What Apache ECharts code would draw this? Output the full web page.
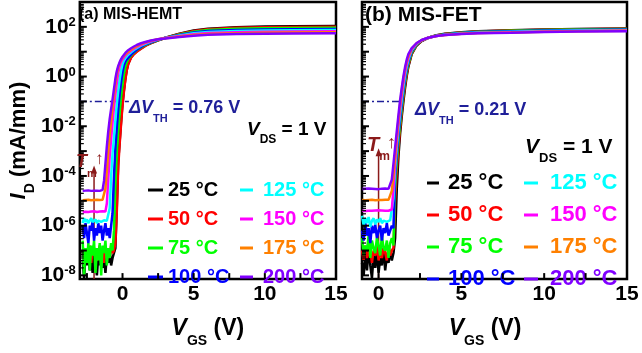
<!DOCTYPE html>
<html><head><meta charset="utf-8">
<script src="https://cdn.jsdelivr.net/npm/echarts@6/dist/echarts.min.js"></script>
<style>html,body{margin:0;padding:0;background:#fff}#c{width:642px;height:353px}</style>
</head><body><div id="c"></div>
<script>
// ---------- data: log10 of I_D (mA/mm) vs V_GS (V) ----------
const temps = ['25 °C','50 °C','75 °C','100 °C','125 °C','150 °C','175 °C','200 °C'];
const colors = ['#000000','#ff0000','#00ff00','#0000ff','#00ffff','#ff00ff','#ff8000','#8000ff'];

// panel (a) MIS-HEMT
const vgsA = [-2.8,-2.7,-2.6,-2.5,-2.4,-2.3,-2.2,-2.1,-2.0,-1.9,-1.8,-1.7,-1.6,-1.5,-1.4,-1.3,-1.2,-1.1,-1.0,-0.9,-0.8,-0.7,-0.6,-0.5,-0.4,-0.3,-0.2,-0.1,0,0.1,0.2,0.3,0.4,0.6,0.8,1.0,1.3,1.6,2.0,2.5,3,4,5,6,8,10,12,15];
const log10IdA25 = [-7.4,-8.1,-7.2,-7.6,-7.0,-7.8,-7.3,-7.9,-7.1,-7.5,-8.0,-7.2,-7.6,-7.0,-7.7,-7.3,-7.9,-7.2,-7.5,-7.0,-7.6,-7.3,-7.1,-6.9,-5.2,-3.4,-2.6,-1.8,-1.08,-0.55,-0.08,0.28,0.52,0.78,0.92,1.02,1.13,1.24,1.35,1.46,1.56,1.72,1.85,1.92,1.98,2.01,2.02,2.03];
const log10IdA50 = [-7.1,-6.9,-7.4,-7.0,-7.3,-6.8,-7.5,-7.0,-7.2,-6.9,-7.4,-7.1,-6.8,-7.3,-7.0,-7.5,-6.9,-7.2,-7.0,-7.3,-6.8,-7.1,-7.0,-6.7,-5.4,-3.6,-2.7,-1.9,-1.15,-0.6,-0.12,0.25,0.5,0.76,0.9,1.0,1.12,1.23,1.35,1.46,1.55,1.71,1.83,1.9,1.96,1.98,1.99,2.0];
const log10IdA75 = [-6.6,-8.0,-6.9,-7.5,-6.7,-7.8,-6.8,-7.2,-6.6,-7.9,-6.9,-7.4,-6.7,-8.0,-6.8,-7.1,-6.6,-7.6,-6.9,-7.3,-6.7,-7.0,-6.2,-4.3,-3.0,-2.2,-1.44,-0.8,-0.3,0.1,0.4,0.58,0.7,0.85,0.97,1.07,1.17,1.27,1.37,1.47,1.55,1.69,1.8,1.87,1.92,1.94,1.95,1.96];
const log10IdA100 = [-6.0,-6.5,-5.9,-6.3,-6.7,-6.0,-6.2,-5.8,-6.6,-6.1,-6.4,-5.9,-6.3,-6.0,-6.6,-6.2,-5.9,-6.4,-6.1,-6.5,-6.0,-5.5,-4.0,-2.85,-2.05,-1.3,-0.7,-0.22,0.17,0.45,0.6,0.69,0.76,0.88,0.99,1.08,1.19,1.29,1.38,1.48,1.55,1.67,1.77,1.83,1.87,1.89,1.9,1.91];
const log10IdA125 = [-5.9,-5.7,-5.85,-5.75,-5.9,-5.8,-5.7,-5.85,-5.8,-5.75,-5.9,-5.8,-5.75,-5.85,-5.8,-5.78,-5.82,-5.8,-5.78,-5.3,-4.0,-3.1,-2.45,-1.75,-1.1,-0.58,-0.12,0.25,0.5,0.64,0.74,0.82,0.88,0.98,1.07,1.14,1.24,1.32,1.41,1.49,1.55,1.65,1.74,1.79,1.83,1.85,1.86,1.87];
const log10IdA150 = [-5.45,-5.4,-5.44,-5.42,-5.45,-5.41,-5.43,-5.44,-5.42,-5.43,-5.45,-5.42,-5.43,-5.44,-5.42,-5.43,-5.43,-5.1,-4.1,-3.2,-2.5,-1.85,-1.25,-0.72,-0.25,0.15,0.42,0.58,0.69,0.77,0.84,0.9,0.95,1.04,1.12,1.18,1.27,1.35,1.42,1.5,1.55,1.63,1.7,1.75,1.78,1.8,1.81,1.82];
const log10IdA175 = [-4.98,-4.96,-4.97,-4.99,-4.96,-4.97,-4.98,-4.96,-4.97,-4.98,-4.96,-4.97,-4.97,-4.98,-4.96,-4.95,-4.5,-3.8,-3.0,-2.35,-1.78,-1.25,-0.78,-0.3,0.1,0.36,0.54,0.67,0.76,0.84,0.9,0.96,1.0,1.09,1.16,1.22,1.31,1.37,1.44,1.5,1.54,1.61,1.67,1.71,1.74,1.76,1.77,1.78];
const log10IdA200 = [-4.6,-4.58,-4.59,-4.61,-4.58,-4.59,-4.6,-4.58,-4.59,-4.6,-4.59,-4.58,-4.6,-4.59,-4.56,-4.2,-3.5,-2.8,-2.2,-1.7,-1.3,-0.92,-0.5,-0.08,0.22,0.43,0.58,0.7,0.8,0.88,0.95,1.01,1.06,1.14,1.21,1.27,1.34,1.39,1.45,1.5,1.53,1.59,1.64,1.68,1.71,1.72,1.73,1.74];

// panel (b) MIS-FET
const vgsB = [-1.0,-0.9,-0.8,-0.7,-0.6,-0.5,-0.4,-0.3,-0.2,-0.1,0,0.1,0.2,0.3,0.4,0.5,0.6,0.7,0.8,0.9,1.0,1.1,1.2,1.3,1.4,1.5,1.6,1.7,1.8,2.0,2.3,2.6,3.0,3.5,4,5,6,8,10,12,15];
const log10IdB25 = [-7.5,-8.0,-7.1,-7.8,-6.9,-7.6,-8.1,-7.2,-7.7,-7.0,-7.9,-7.3,-7.6,-6.9,-7.8,-7.2,-7.5,-7.0,-7.4,-7.1,-6.5,-4.5,-3.2,-2.3,-1.6,-1.0,-0.45,0.02,0.4,0.9,1.25,1.43,1.56,1.66,1.72,1.78,1.82,1.86,1.89,1.91,1.93];
const log10IdB50 = [-7.0,-7.4,-6.8,-7.3,-7.1,-6.9,-7.5,-7.0,-7.2,-6.8,-7.4,-7.0,-7.3,-6.9,-7.1,-7.4,-6.8,-7.2,-7.0,-6.9,-5.0,-3.8,-2.9,-2.1,-1.45,-0.85,-0.33,0.1,0.45,0.93,1.26,1.44,1.56,1.65,1.71,1.77,1.81,1.85,1.88,1.9,1.92];
const log10IdB75 = [-6.5,-7.2,-6.8,-7.0,-6.4,-7.3,-6.6,-6.9,-7.1,-6.5,-6.8,-7.2,-6.4,-6.9,-7.0,-6.6,-7.3,-6.7,-6.5,-6.8,-4.4,-3.4,-2.6,-1.9,-1.28,-0.7,-0.2,0.2,0.52,0.97,1.28,1.45,1.56,1.65,1.7,1.76,1.8,1.84,1.87,1.89,1.91];
const log10IdB100 = [-6.2,-6.6,-5.9,-6.4,-6.1,-6.7,-6.0,-6.3,-5.95,-6.5,-6.2,-6.0,-6.6,-6.1,-6.3,-5.9,-6.4,-6.2,-6.0,-6.1,-4.0,-3.1,-2.35,-1.7,-1.1,-0.55,-0.08,0.3,0.6,1.02,1.3,1.45,1.56,1.64,1.69,1.75,1.79,1.82,1.85,1.87,1.89];
const log10IdB125 = [-5.6,-6.0,-5.7,-5.9,-5.65,-6.05,-5.8,-5.7,-5.95,-5.75,-5.85,-5.7,-5.9,-5.8,-5.75,-5.85,-5.8,-5.78,-5.82,-4.9,-3.7,-2.85,-2.15,-1.5,-0.92,-0.4,0.05,0.4,0.68,1.06,1.32,1.46,1.56,1.63,1.68,1.74,1.77,1.8,1.83,1.85,1.87];
const log10IdB150 = [-5.4,-5.38,-5.41,-5.39,-5.4,-5.37,-5.4,-5.41,-5.39,-5.4,-5.38,-5.4,-5.39,-5.41,-5.4,-5.38,-5.4,-5.39,-5.35,-4.5,-3.45,-2.65,-1.95,-1.3,-0.75,-0.25,0.17,0.5,0.75,1.09,1.33,1.46,1.56,1.63,1.67,1.72,1.75,1.78,1.81,1.83,1.85];
const log10IdB175 = [-4.97,-4.95,-4.98,-4.96,-4.97,-4.99,-4.96,-4.97,-4.98,-4.96,-4.97,-4.95,-4.97,-4.98,-4.96,-4.97,-4.96,-4.95,-4.6,-3.95,-3.2,-2.45,-1.75,-1.12,-0.58,-0.1,0.28,0.6,0.82,1.12,1.34,1.46,1.56,1.63,1.67,1.72,1.75,1.77,1.8,1.82,1.84];
const log10IdB200 = [-4.52,-4.5,-4.51,-4.53,-4.5,-4.52,-4.51,-4.5,-4.52,-4.51,-4.53,-4.5,-4.51,-4.52,-4.5,-4.51,-4.52,-4.48,-4.15,-3.5,-2.85,-2.2,-1.55,-0.95,-0.45,0.0,0.38,0.68,0.9,1.14,1.35,1.47,1.56,1.63,1.67,1.71,1.74,1.76,1.79,1.81,1.82];

// axis labels and tick values
const xTickLabels = [0, 5, 10, 15];
const xTickValuesA = [-2.5, 0, 2.5, 5, 7.5, 10, 12.5];
const xTickValuesB = [0, 2.5, 5, 7.5, 10, 12.5];
const yLabelExps = [-8, -6, -4, -2, 0, 2];
const yDecadeExps = [-8, -7, -6, -5, -4, -3, -2, -1, 0, 1, 2];
const minorMultiples = [2, 3, 4, 5, 6, 7, 8, 9];

// annotations
const vthLevelExp = -1;               // 0.1 mA/mm, dash-dot reference level
const vthLineA = [-3, 0.45];
const vthLineB = [-1, 1.45];
const tmArrowA = {vgs: -2.0, topExp: -3.74};
const tmArrowB = {vgs: 0.0, topExp: -3.05};
const dVthA = '0.76', dVthB = '0.21';
const yMinExp = -8.15, yMaxExp = 3;
const xMinA = -3, xMinB = -1, xMax = 15;

// ---------- layout ----------
const F = "'Liberation Sans', Arial, Helvetica, sans-serif";
const NAVY = '#1f1f99', DRED = '#8b1a1a';
const PA = {left: 73, top: 2, width: 263, height: 291};
const PB = {left: 362, top: 2, width: 265, height: 291};
const setsA = [log10IdA25, log10IdA50, log10IdA75, log10IdA100, log10IdA125, log10IdA150, log10IdA175, log10IdA200];
const setsB = [log10IdB25, log10IdB50, log10IdB75, log10IdB100, log10IdB125, log10IdB150, log10IdB175, log10IdB200];

function tok(size, color, o) { return Object.assign({fontSize: size, fontWeight: 'bold', fontFamily: F, color: color, fill: color}, o || {}); }

function xMain(idx, min) {
  return {
    type: 'value', gridIndex: idx, min: min, max: xMax,
    axisLine: {show: false, onZero: false}, axisTick: {show: false}, splitLine: {show: false},
    axisLabel: {margin: 5, fontSize: 21, fontWeight: 'bold', fontFamily: F, color: '#000', customValues: xTickLabels},
    name: '{i|V}{s|GS}{n| (V)}', nameLocation: 'middle', nameGap: 24,
    nameTextStyle: {padding: idx === 1 ? [0, 19, 0, 0] : [0, 0, 0, 0], rich: {
      i: tok(23, '#000', {fontStyle: 'italic', lineHeight: 24}),
      s: tok(14, '#000', {lineHeight: 14, padding: [24, 0, 0, 0]}),
      n: tok(23, '#000', {lineHeight: 24})}}
  };
}
function yMain(idx, labels) {
  const ax = {
    type: 'value', gridIndex: idx, min: yMinExp, max: yMaxExp,
    axisLine: {show: false, onZero: false}, axisTick: {show: false}, splitLine: {show: false},
    axisLabel: {show: labels, margin: 4, customValues: yLabelExps,
      formatter: v => '{b|10}{s|' + v + '}',
      rich: {b: tok(21, '#000', {lineHeight: 22}), s: tok(13, '#000', {lineHeight: 13, padding: [0, 0, 9, 0]})}}
  };
  if (labels) {
    ax.name = '{i|I}{s|D}{n| (mA/mm)}';
    ax.nameLocation = 'middle'; ax.nameGap = 38; ax.nameRotate = 90;
    ax.nameTextStyle = {rich: {
      i: tok(22, '#000', {fontStyle: 'italic', lineHeight: 24}),
      s: tok(14, '#000', {lineHeight: 14, padding: [22, 0, 0, 0]}),
      n: tok(22, '#000', {lineHeight: 24})}};
  }
  return ax;
}

const series = [];
function refLines(idx, range, arrow) {
  series.push({type: 'line', name: 'ref' + idx, xAxisIndex: idx, yAxisIndex: idx, silent: true,
    data: [[range[0], vthLevelExp], [range[1], vthLevelExp]], symbol: 'none',
    lineStyle: {color: NAVY, width: 1.5, type: [7, 3, 2, 3]}, z: 1});
  series.push({type: 'line', name: 'tm' + idx, xAxisIndex: idx, yAxisIndex: idx, silent: true,
    data: [{value: [arrow.vgs, yMinExp], symbol: 'none'},
           {value: [arrow.vgs, arrow.topExp], symbol: 'triangle', symbolSize: [6, 8]}],
    showSymbol: true, itemStyle: {color: DRED}, lineStyle: {color: DRED, width: 1.5}, z: 1});
}
refLines(0, vthLineA, tmArrowA);
refLines(1, vthLineB, tmArrowB);
[[0, vgsA, setsA], [1, vgsB, setsB]].forEach(([idx, vgs, sets]) => {
  sets.forEach((arr, k) => {
    series.push({type: 'line', name: temps[k], xAxisIndex: idx, yAxisIndex: idx,
      data: vgs.map((v, i) => [v, arr[i]]),
      symbol: 'none', showSymbol: false, z: 2,
      lineStyle: {color: colors[k], width: 2.5}, itemStyle: {color: colors[k]}});
  });
});

function legend(names, cols, left, top, size, gap, iconW, pad) {
  return {orient: 'vertical', left: left, top: top, padding: 0, itemGap: gap, selectedMode: false,
    icon: 'rect', itemWidth: iconW, itemHeight: 3,
    textStyle: {fontSize: size, fontWeight: 'bold', fontFamily: F, lineHeight: size, padding: [0, 0, 0, pad]},
    data: names.map((n, i) => ({name: n, textStyle: {color: cols[i]}}))};
}
function txt(x, y, text, rich) {
  return {type: 'text', x: x, y: y, silent: true, z: 100,
    style: {text: text, rich: rich, align: 'left', verticalAlign: 'middle', fontFamily: F}};
}
function subRich(size, sub, pad, color) {
  return {i: tok(size, color, {fontStyle: 'italic', lineHeight: size + 2}),
          s: tok(sub, color, {lineHeight: sub, padding: [pad, 0, 0, 0]}),
          n: tok(size, color, {lineHeight: size + 2})};
}

const textGraphics = [
  txt(79, 15, '{t|(a) MIS-HEMT}', {t: tok(16, '#000')}),
  txt(365, 15, '{t|(b) MIS-FET}', {t: tok(21, '#000')}),
  txt(129, 108, '{i|ΔV}{s|TH}{n| = ' + dVthA + ' V}', subRich(18, 11, 21, NAVY)),
  txt(415, 110, '{i|ΔV}{s|TH}{n| = ' + dVthB + ' V}', subRich(18, 11, 21, NAVY)),
  txt(247, 130, '{i|V}{s|DS}{n| = 1 V}', subRich(19, 12, 20, '#000')),
  txt(525, 147, '{i|V}{s|DS}{n| = 1 V}', subRich(21, 13, 22, '#000')),
  txt(76, 162, '{i|T}{s|m}', subRich(18, 11, 23, DRED)),
  txt(367, 145, '{i|T}{s|m}', subRich(20, 12, 23, DRED)),
  txt(95, 159, '{a|↑}', {a: tok(17, DRED, {fontWeight: 'normal'})}),
  txt(387, 143, '{a|↑}', {a: tok(18, DRED, {fontWeight: 'normal'})})
];

const option = {
  animation: false,
  backgroundColor: '#fff',
  grid: [
    Object.assign({show: true, borderColor: '#000', borderWidth: 2.5, backgroundColor: 'transparent'}, PA),
    Object.assign({show: true, borderColor: '#000', borderWidth: 2.5, backgroundColor: 'transparent'}, PB)
  ],
  xAxis: [xMain(0, xMinA), xMain(1, xMinB)],
  yAxis: [yMain(0, true), yMain(1, false)],
  legend: [
    legend(temps.slice(0, 4), colors.slice(0, 4), 148, 180, 20, 9, 15, 0),
    legend(temps.slice(4), colors.slice(4), 240, 180, 20, 9, 13, 5),
    legend(temps.slice(0, 4), colors.slice(0, 4), 427, 172, 22, 10, 12, 4),
    legend(temps.slice(4), colors.slice(4), 524, 172, 22, 10, 14, 7)
  ],
  graphic: textGraphics,
  series: series
};

const chart = echarts.init(document.getElementById('c'), null, {renderer: 'canvas'});
chart.setOption(option);

// inward-pointing ticks, placed through the axes' own scales
function tickLine(x1, y1, x2, y2, w) {
  return {type: 'line', silent: true, z: 50,
    shape: {x1: x1, y1: y1, x2: x2, y2: y2}, style: {stroke: '#000', lineWidth: w}};
}
const ticks = [];
[[0, xTickValuesA], [1, xTickValuesB]].forEach(([idx, xVals]) => {
  const yBottom = chart.convertToPixel({yAxisIndex: idx}, yMinExp);
  const xLeft = chart.convertToPixel({xAxisIndex: idx}, idx === 0 ? xMinA : xMinB);
  xVals.forEach(v => {
    const px = chart.convertToPixel({xAxisIndex: idx}, v);
    ticks.push(tickLine(px, yBottom, px, yBottom - 6, 2));
  });
  yDecadeExps.forEach(n => {
    const py = chart.convertToPixel({yAxisIndex: idx}, n);
    ticks.push(tickLine(xLeft, py, xLeft + 7, py, 2));
    minorMultiples.forEach(m => {
      const e = n + Math.log10(m);
      if (e < yMaxExp - 0.05) {
        const pm = chart.convertToPixel({yAxisIndex: idx}, e);
        ticks.push(tickLine(xLeft, pm, xLeft + 4, pm, 1.2));
      }
    });
  });
});
chart.setOption({graphic: textGraphics.concat(ticks)});
</script>
</body></html>
